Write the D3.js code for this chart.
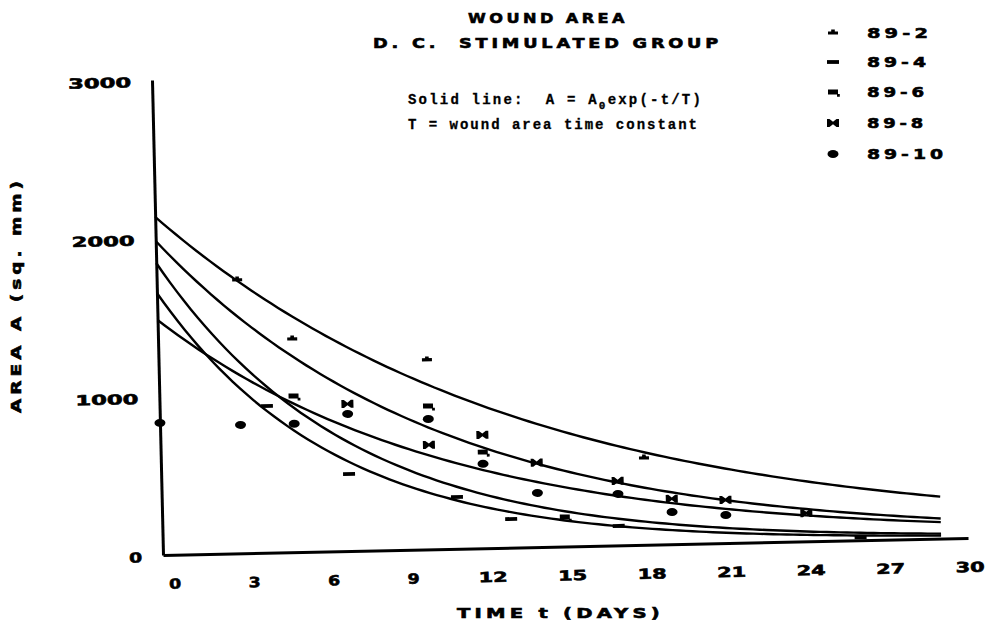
<!DOCTYPE html>
<html>
<head>
<meta charset="utf-8">
<script src="https://cdn.jsdelivr.net/npm/d3@7"></script>
<style>
  body { margin: 0; background: #fff; }
  svg { display: block; background: #fff; }
  text { font-family: 'DejaVu Sans', sans-serif; font-weight: bold; fill: #000; white-space: pre; }
  .plotter { stroke: #000; stroke-width: 0.6px; }
  .mono { font-family: 'Liberation Mono', monospace; stroke: #000; stroke-width: 0.3px; }
</style>
</head>
<body>
<svg width="985" height="626"></svg>
<script>
// wound area readings per animal (day, sq. mm)
const seriesNames = ['89-2', '89-4', '89-6', '89-8', '89-10'];
const days = [
  [3, 5, 10, 18],
  [4, 7, 11, 13, 17, 26],
  [5, 10, 12, 15],
  [7, 10, 12, 14, 17, 19, 21, 24],
  [0, 3, 5, 7, 10, 12, 14, 17, 19, 21]
];
const areas = [
  [1727, 1347, 1197, 549],
  [927, 486, 327, 181, 123, 20],
  [987, 906, 608, 187],
  [929, 660, 716, 533, 407, 287, 273, 179],
  [834, 811, 811, 866, 823, 533, 342, 325, 203, 177]
];
// fitted A = A0 exp(-t/T)
const fitA0 = [2135, 1655, 1844, 1983, 1484];
const fitT = [13.9, 6.5, 7.1, 10.56, 10.9];
const fitEnd = 29;

const xTicks = [0, 3, 6, 9, 12, 15, 18, 21, 24, 27, 30];
const yTicks = [0, 1000, 2000, 3000];

const svg = d3.select('svg');

const xScale = d3.scaleLinear().domain([0, 30]).range([0, 805]);
const yScale = d3.scaleLinear().domain([0, 3000]).range([0, -475]);
const tickX = d3.scaleLinear().domain([0, 30]).range([8, 803]);

// marker shapes, one per animal
const markers = [
  'M-5,-1.6H5V1.6H-5Z M-1.8,-3.4H1.8V1.6H-1.8Z',
  'M-6,-1.9H6V1.9H-6Z',
  'M-5,-2.4H5V2.4H-5Z M4,2H6.8V4.8H4Z',
  'M-6,-4H-3.5L0,-1.3L3.5,-4H6V4H3.5L0,1.3L-3.5,4H-6Z',
  'M-5.5,0a5.5,4 0 1,0 11,0a5.5,4 0 1,0 -11,0Z'
];

// the scanned plot is slightly skewed
const plot = svg.append('g')
  .attr('transform', 'matrix(1,-0.0211,0.0232,1,163,555)');

// axis lines
plot.append('g')
  .call(d3.axisLeft(yScale).tickValues([]).tickSizeOuter(0))
  .select('.domain')
  .attr('stroke', '#000')
  .attr('stroke-width', 3);

plot.append('g')
  .call(d3.axisBottom(xScale).tickValues([]).tickSizeOuter(0))
  .select('.domain')
  .attr('stroke', '#000')
  .attr('stroke-width', 3);

// tick labels
const yLabels = plot.append('g')
  .attr('transform', 'translate(-21,2)')
  .call(d3.axisLeft(yScale).tickValues(yTicks).tickFormat(d3.format('d')).tickSize(0).tickPadding(0));
yLabels.select('.domain').remove();
yLabels.selectAll('text')
  .attr('class', 'plotter')
  .style('font-family', "'DejaVu Sans', sans-serif")
  .style('font-size', '14px')
  .attr('textLength', d => String(d).length === 1 ? 13 : 63)
  .attr('lengthAdjust', 'spacingAndGlyphs');

const xLabels = plot.append('g')
  .attr('transform', 'translate(3,24)')
  .call(d3.axisBottom(tickX).tickValues(xTicks).tickFormat(d3.format('d')).tickSize(0).tickPadding(0));
xLabels.select('.domain').remove();
xLabels.selectAll('text')
  .attr('class', 'plotter')
  .style('font-family', "'DejaVu Sans', sans-serif")
  .style('font-size', '14px')
  .attr('textLength', d => String(d).length === 1 ? 12 : 29)
  .attr('lengthAdjust', 'spacingAndGlyphs');

// fitted curves
const curveLine = d3.line()
  .x(d => xScale(d[0]))
  .y(d => yScale(d[1]));

seriesNames.forEach((name, i) => {
  const pts = d3.range(0, fitEnd + 0.001, 0.25)
    .map(t => [t, fitA0[i] * Math.exp(-t / fitT[i])]);
  plot.append('path')
    .attr('d', curveLine(pts))
    .attr('fill', 'none')
    .attr('stroke', '#000')
    .attr('stroke-width', 2.4);
});

// measured points
seriesNames.forEach((name, i) => {
  plot.append('g')
    .selectAll('path')
    .data(days[i].map((d, j) => [d, areas[i][j]]))
    .join('path')
    .attr('transform', d => `translate(${xScale(d[0])},${yScale(d[1])})`)
    .attr('d', markers[i])
    .attr('fill', '#000');
});

// plotter-style text, stretched to the widths on the scan
function plotterText(x, y, str, len) {
  return svg.append('text')
    .attr('class', 'plotter')
    .attr('x', x).attr('y', y)
    .attr('font-size', 14)
    .style('letter-spacing', '3px')
    .attr('textLength', len).attr('lengthAdjust', 'spacingAndGlyphs')
    .text(str);
}

plotterText(468, 23, 'WOUND AREA', 160);
plotterText(373, 48, 'D. C.  STIMULATED GROUP', 349);

// annotation
const note1 = svg.append('text')
  .attr('class', 'mono')
  .attr('x', 408).attr('y', 104)
  .attr('font-size', 14)
  .style('letter-spacing', '2.2px');
note1.append('tspan').text('Solid line:  A = A');
note1.append('tspan').attr('dy', 5).attr('font-size', 11).text('0');
note1.append('tspan').attr('dy', -5).text('exp(-t/T)');

svg.append('text')
  .attr('class', 'mono')
  .attr('x', 408).attr('y', 129)
  .attr('font-size', 14)
  .attr('textLength', 289).attr('lengthAdjust', 'spacing')
  .text('T = wound area time constant');

// legend
const legendY = [33, 62, 92, 123, 154];
const legendW = [65, 63, 61, 60, 80];
seriesNames.forEach((name, i) => {
  svg.append('path')
    .attr('transform', `translate(833,${legendY[i]})`)
    .attr('d', markers[i])
    .attr('fill', '#000');
  plotterText(867, legendY[i] + 5, name, legendW[i]);
});

// axis titles
plotterText(0, 0, 'AREA A (sq. mm)', 236)
  .attr('transform', 'translate(21,295) rotate(-90)')
  .attr('text-anchor', 'middle');

plotterText(457, 618, 'TIME t (DAYS)', 207);
</script>
</body>
</html>
